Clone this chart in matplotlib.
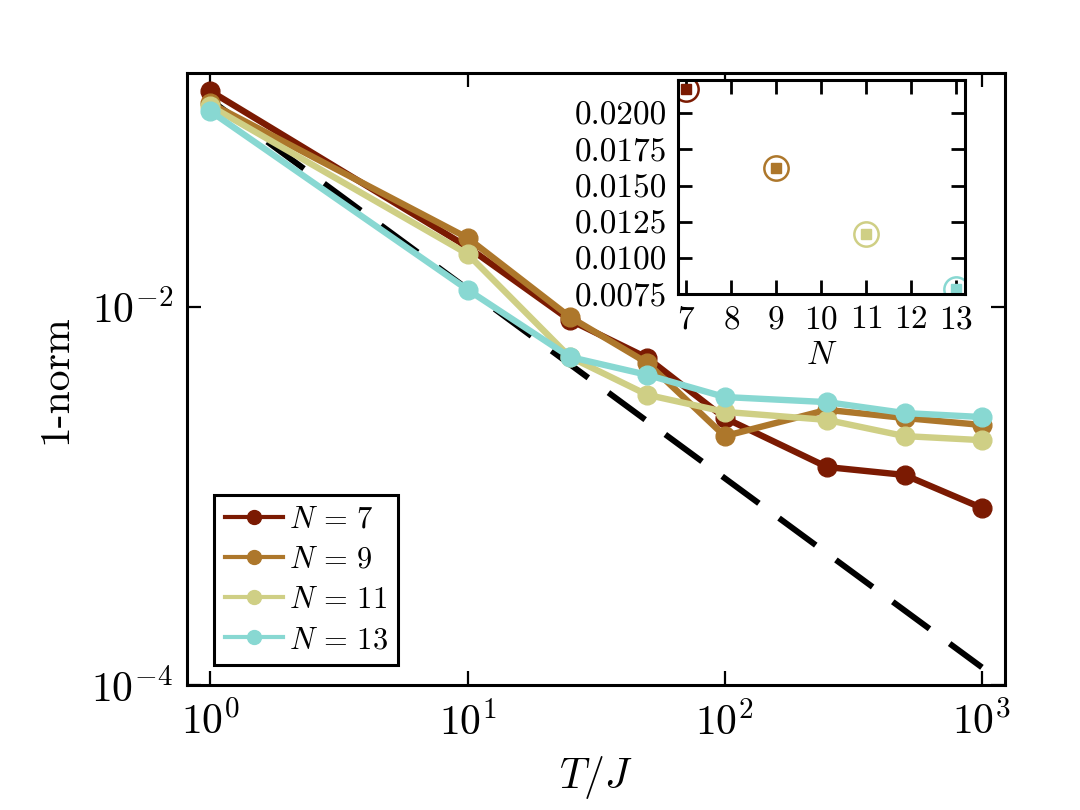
import matplotlib
matplotlib.use("Agg")
import matplotlib.pyplot as plt
from matplotlib.ticker import FormatStrFormatter, NullLocator

plt.rcParams["font.family"] = "serif"
plt.rcParams["font.serif"] = ["cmr10"]
plt.rcParams["mathtext.fontset"] = "cm"
plt.rcParams["axes.formatter.use_mathtext"] = True

# main panel: 1-norm vs T/J for each system size
T_J = [1, 10, 25, 50, 100, 250, 500, 1000]
N_values = [7, 9, 11, 13]
norm_N7 = [0.138, 0.0207, 0.0085, 0.00536, 0.00258, 0.00142, 0.00129, 0.000863]
norm_N9 = [0.119, 0.0231, 0.00882, 0.00504, 0.00207, 0.00285, 0.00258, 0.00237]
norm_N11 = [0.115, 0.0190, 0.00542, 0.00342, 0.00278, 0.00252, 0.00207, 0.00197]
norm_N13 = [0.108, 0.0123, 0.00542, 0.00436, 0.00333, 0.00313, 0.00274, 0.00261]
colors = ["#7b1a02", "#ad772b", "#cfcf85", "#88d8d2"]

# ~1/T reference line
ref_T = [1, 1000]
ref_norm = [0.124, 0.000124]

# inset: fitted value per N
inset_N = [7, 9, 11, 13]
inset_val = [0.02167, 0.01622, 0.01162, 0.00787]

fig = plt.figure(figsize=(10.8, 8.1), dpi=100)
ax = fig.add_axes([0.173, 0.1543, 0.7576, 0.7556])

ax.plot(ref_T, ref_norm, color="black", lw=4.3, dashes=(7.63, 4.19), zorder=1)
for n, vals, c in zip(N_values, [norm_N7, norm_N9, norm_N11, norm_N13], colors):
    ax.plot(T_J, vals, "-o", color=c, lw=4.6, ms=13.5, label=rf"$N\,=\,{n}$", zorder=2)

ax.set_xscale("log"); ax.set_yscale("log")
ax.set_xlim(0.81, 1230)
ax.set_ylim(1e-4, 0.172)
ax.set_xticks([1, 10, 100, 1000])
ax.set_yticks([1e-4, 1e-2])
ax.xaxis.set_minor_locator(NullLocator()); ax.yaxis.set_minor_locator(NullLocator())
ax.tick_params(which="major", direction="in", top=True, right=True, length=10,
               width=1.6, labelsize=30)
ax.tick_params(axis="x", pad=12)
ax.tick_params(axis="y", pad=10)
for s in ax.spines.values():
    s.set_linewidth(2.2)
ax.set_xlabel(r"$T/J$", fontsize=30, labelpad=8)
ax.set_ylabel("1-norm", fontsize=30, labelpad=12)

leg = ax.legend(loc="lower left", bbox_to_anchor=(0.033, 0.033), fontsize=22,
                fancybox=False, framealpha=1, edgecolor="black", handlelength=1.9,
                handletextpad=0.2, labelspacing=0.42, borderpad=0.35, borderaxespad=0)
leg.get_frame().set_linewidth(2.2)
for h in leg.legend_handles:
    h.set_linewidth(3.0)
    h.set_markersize(10)

ins = fig.add_axes([0.6278, 0.637, 0.2657, 0.2642])
for n, v, c in zip(inset_N, inset_val, colors):
    ins.plot([n], [v], "o", ms=17.5, mfc="none", mec=c, mew=1.8)
    ins.plot([n], [v], "s", ms=7, color=c)
ins.set_xlim(6.82, 13.2)
ins.set_ylim(0.0075, 0.0223)
ins.set_xticks(range(7, 14))
ins.set_yticks([0.0075, 0.0100, 0.0125, 0.0150, 0.0175, 0.0200])
ins.yaxis.set_major_formatter(FormatStrFormatter("%.4f"))
ins.tick_params(direction="in", top=True, right=True, length=10, width=2,
                labelsize=24, pad=8)
for s in ins.spines.values():
    s.set_linewidth(2.2)
ins.set_xlabel(r"$N$", fontsize=24, labelpad=5)

fig.savefig("out.png", dpi=100)
